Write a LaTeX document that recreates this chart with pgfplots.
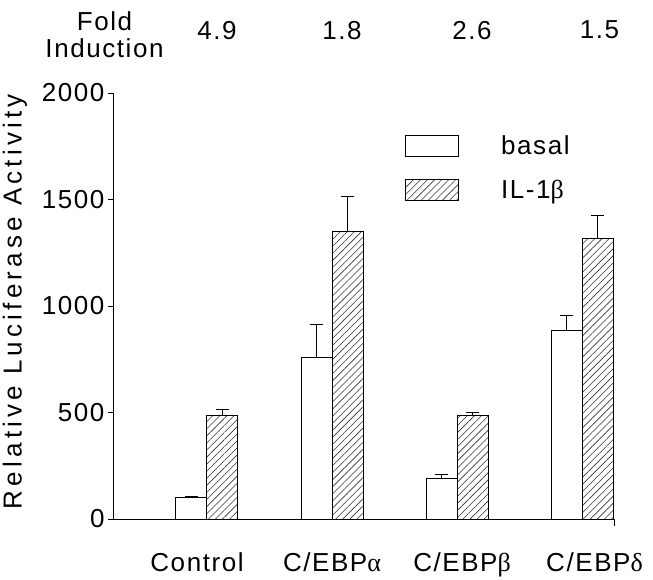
\documentclass[border=0pt]{standalone}
\usepackage{fontspec}
\setmainfont{Liberation Sans}
\newfontfamily\lsf[LetterSpace=6]{Liberation Sans}
\newfontfamily\ylf[LetterSpace=16]{Liberation Sans}
\newfontfamily\grk{Liberation Serif}
\usepackage{pgfplots}
\pgfplotsset{compat=1.18}
\usetikzlibrary{patterns.meta}

\newcommand\bigf{\lsf\fontsize{26}{30}\selectfont}

\begin{document}
\begin{tikzpicture}
\begin{axis}[
  name=ax,
  scale only axis, width=500pt, height=426pt,
  ybar=0pt, bar width=31pt,
  xmin=-0.744, xmax=3.256, ymin=0, ymax=2000,
  axis x line*=bottom, axis y line*=left,
  axis line style={line width=1pt},
  xtick={-0.08,1.0,2.04,3.1},
  xticklabels={Control, C/EBP{\grk α}, C/EBP{\grk β}, C/EBP{\grk δ}},
  x tick style={draw=none},
  xticklabel style={font=\bigf, yshift=-24pt},
  extra x ticks={3.256}, extra x tick labels={},
  extra x tick style={x tick style={draw=black, line width=1pt}, major tick length=7pt},
  ytick={0,500,...,2000},
  y tick style={line width=1pt, black},
  tick align=outside, major tick length=6pt,
  yticklabel style={font=\bigf},
  /pgf/number format/assume math mode=true,
  /pgf/number format/1000 sep={},
  ylabel={Relative Luciferase Activity},
  ylabel style={font=\ylf\fontsize{26}{30}\selectfont, at={(axis description cs:-0.198,0.51)}, anchor=center},
  clip=false,
  legend style={draw=none, fill=none, at={(0.582,0.904)}, anchor=north west,
    font=\bigf, row sep=20pt, inner sep=0pt,
    /tikz/every odd column/.append style={column sep=40pt}},
  legend cell align=left,
  legend image code/.code={\draw[#1, line width=1pt] (0pt,-10.5pt) rectangle (53pt,10.5pt);},
  error bars/y dir=plus, error bars/y explicit,
  error bars/error bar style={line width=1pt, black},
  error bars/error mark options={rotate=90, mark size=6.5pt, line width=1pt, black},
]
\addplot[draw=black, fill=white, line width=1pt]
  coordinates {(0,100) +- (0,5) (1,757) +- (0,157) (2,188) +- (0,22) (3,884) +- (0,71)};
\addlegendentry{basal}
\addplot[draw=black, line width=1pt, pattern={Lines[angle=45,distance=5pt,line width=0.6pt]}, pattern color=black!80]
  coordinates {(0,485) +- (0,27) (1,1349) +- (0,164) (2,488) +- (0,11) (3,1315) +- (0,109)};
\addlegendentry{IL-1{\grk β}}
\node[font=\bigf] at (axis cs:0.08,2295) {4.9};
\node[font=\bigf] at (axis cs:1.08,2295) {1.8};
\node[font=\bigf] at (axis cs:2.12,2295) {2.6};
\node[font=\bigf] at (axis cs:3.14,2295) {1.5};
\node[font=\bigf, align=center] at (axis cs:-0.82,2275) {Fold\\[-3pt]Induction};
\end{axis}
\pgfresetboundingbox
\path ([shift={(-114pt,-60pt)}]ax.south west) rectangle ([shift={(539pt,519pt)}]ax.south west);
\end{tikzpicture}
\end{document}
